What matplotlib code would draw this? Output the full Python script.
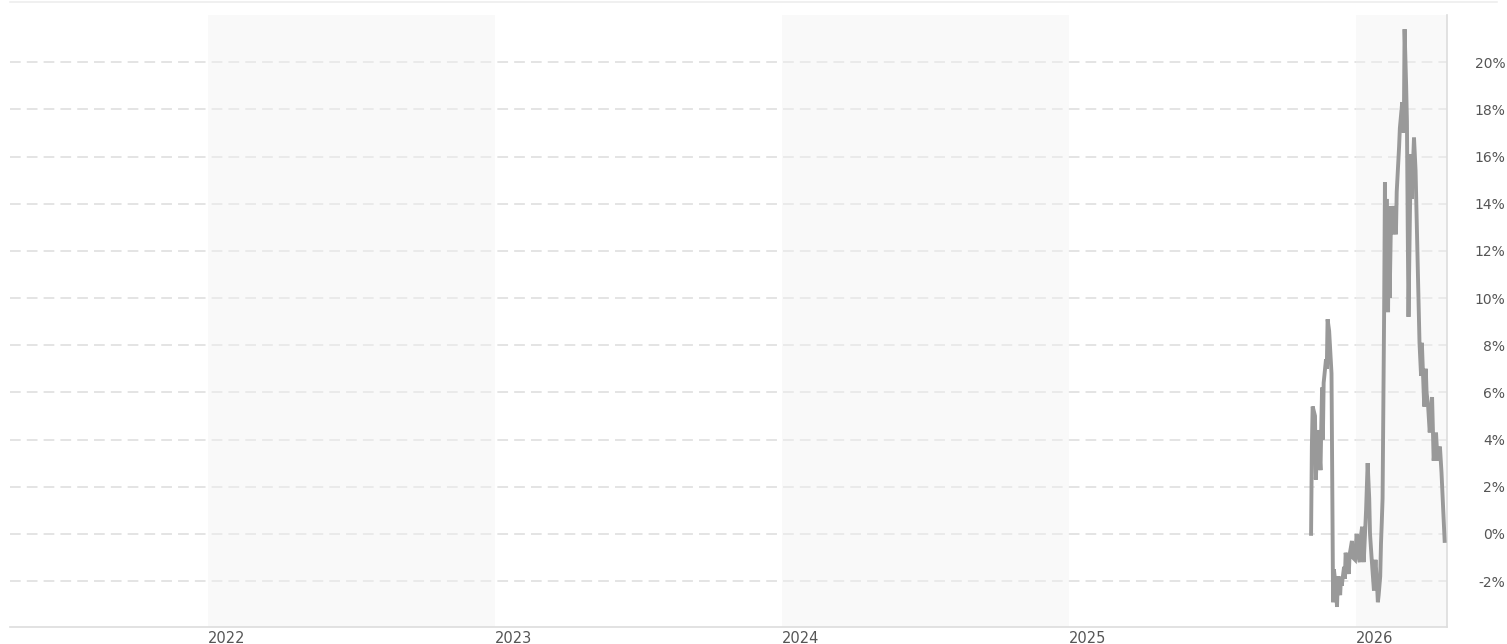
import numpy as np
import pandas as pd
import matplotlib
matplotlib.use("Agg")
import matplotlib.pyplot as plt
import matplotlib.dates as mdates
from matplotlib.lines import Line2D
from matplotlib.ticker import FuncFormatter

dates = [
    "2025-11-05", "2025-11-06", "2025-11-07", "2025-11-10", "2025-11-11", "2025-11-12",
    "2025-11-14", "2025-11-17", "2025-11-18", "2025-11-19", "2025-11-20", "2025-11-21",
    "2025-11-24", "2025-11-25", "2025-11-26", "2025-11-28", "2025-12-01", "2025-12-03",
    "2025-12-04", "2025-12-05", "2025-12-07", "2025-12-08", "2025-12-09", "2025-12-10",
    "2025-12-12", "2025-12-13", "2025-12-14", "2025-12-17", "2025-12-18", "2025-12-19",
    "2025-12-22", "2025-12-23", "2025-12-24", "2025-12-27", "2025-12-28", "2025-12-31",
    "2026-01-01", "2026-01-02", "2026-01-04", "2026-01-06", "2026-01-07", "2026-01-09",
    "2026-01-10", "2026-01-11", "2026-01-14", "2026-01-16", "2026-01-18", "2026-01-19",
    "2026-01-21", "2026-01-24", "2026-01-25", "2026-01-26", "2026-01-28", "2026-01-29",
    "2026-01-30", "2026-02-01", "2026-02-02", "2026-02-03", "2026-02-04", "2026-02-06",
    "2026-02-07", "2026-02-08", "2026-02-09", "2026-02-11", "2026-02-12", "2026-02-13",
    "2026-02-15", "2026-02-16", "2026-02-18", "2026-02-21", "2026-02-22", "2026-02-25",
    "2026-02-26", "2026-03-01", "2026-03-03", "2026-03-04", "2026-03-06", "2026-03-07",
    "2026-03-08", "2026-03-09", "2026-03-11", "2026-03-12", "2026-03-13", "2026-03-16",
    "2026-03-18", "2026-03-21", "2026-03-23", "2026-03-25", "2026-03-26", "2026-03-29",
    "2026-03-30", "2026-03-31", "2026-04-01", "2026-04-03", "2026-04-05", "2026-04-08",
    "2026-04-09", "2026-04-10", "2026-04-13", "2026-04-15", "2026-04-18", "2026-04-20",
    "2026-04-24",
]
values = [
    0.0, 3.7, 5.4, 5.0, 2.3, 3.0,
    4.4, 2.7, 4.6, 6.2, 4.0, 6.4,
    7.4, 7.0, 9.1, 8.6, 6.8, -2.9,
    -1.5, -1.8, -2.4, -3.1, -2.0, -1.8,
    -2.6, -1.9, -2.2, -1.4, -1.9, -0.8,
    -1.5, -1.7, -0.9, -0.3, -1.0, -1.1,
    -0.5, 0.0, -0.9, -1.2, -0.2, 0.3,
    -0.8, -1.2, 1.0, 3.0, 1.5, 0.0,
    -1.0, -2.4, -1.6, -1.1, -2.2, -2.9,
    -2.6, -1.8, -0.4, 0.5, 1.5, 9.5,
    14.9, 11.0, 14.2, 9.4, 13.9, 10.0,
    13.9, 12.7, 13.9, 12.7, 14.5, 16.4,
    17.2, 18.3, 17.0, 21.4, 19.0, 17.5,
    13.0, 9.2, 14.0, 16.1, 14.2, 16.8,
    15.4, 11.0, 8.1, 6.7, 8.1, 5.4,
    6.2, 7.0, 6.0, 5.4, 4.3, 5.8,
    4.5, 3.1, 4.3, 3.1, 3.7, 2.6,
    -0.3,
]

years = [2022, 2023, 2024, 2025, 2026]
shaded_years = [2022, 2024, 2026]
y_ticks = [-2, 0, 2, 4, 6, 8, 10, 12, 14, 16, 18, 20]

x_start = pd.Timestamp("2021-04-24")
x_end = pd.Timestamp("2026-04-27")

W, H = 1507, 644
fig = plt.figure(figsize=(W / 100, H / 100), dpi=100)
ax = fig.add_axes([10 / W, (H - 627) / H, (1447 - 10) / W, (627 - 15) / H])

# grid
for v in y_ticks:
    ax.axhline(v, color="#dcdcdc", lw=1.1, ls=(0, (7, 4)), zorder=1)

# alternating year bands
for yr in shaded_years:
    ax.axvspan(pd.Timestamp(f"{yr}-01-01"), pd.Timestamp(f"{yr + 1}-01-01"),
               facecolor="#f2f2f2", alpha=0.45, edgecolor="none", zorder=2)

ax.plot(pd.to_datetime(dates), values, color="#999999", lw=2.8,
        solid_joinstyle="miter", zorder=3)

ax.set_xlim(x_start, x_end)
ax.set_ylim(-3.95, 22.0)

ax.set_xticks([pd.Timestamp(f"{y}-01-01") for y in years])
ax.xaxis.set_major_formatter(mdates.DateFormatter("%Y"))
ax.tick_params(axis="x", length=0, pad=3, labelsize=10.5, labelcolor="#555555")
for lbl in ax.get_xticklabels():
    lbl.set_horizontalalignment("left")

ax.yaxis.tick_right()
ax.set_yticks(y_ticks)
ax.yaxis.set_major_formatter(FuncFormatter(lambda v, p: f"{v:.0f}%"))
ax.tick_params(axis="y", length=0, pad=42, labelsize=10, labelcolor="#555555")
for lbl in ax.get_yticklabels():
    lbl.set_horizontalalignment("right")

for s in ["left", "top"]:
    ax.spines[s].set_visible(False)
for s in ["bottom", "right"]:
    ax.spines[s].set_color("#dddddd")
    ax.spines[s].set_linewidth(1.2)

fig.add_artist(Line2D([10 / W, 1497 / W], [(H - 2) / H, (H - 2) / H],
                      color="#eeeeee", lw=1.2))

fig.savefig("out.png", dpi=100)
